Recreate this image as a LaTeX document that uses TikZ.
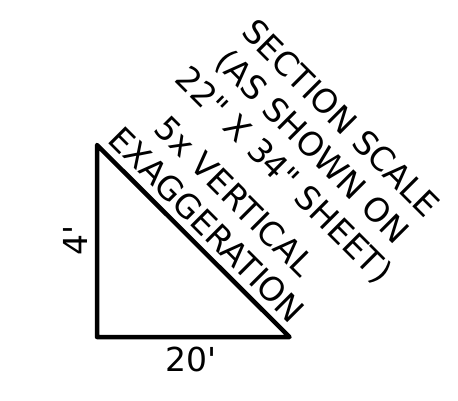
\documentclass[tikz,border=0pt]{standalone}
\usepackage{fontspec}
\setmainfont{DejaVu Sans}[Ligatures=TeXOff]
\usepackage{tikz}
\usetikzlibrary{positioning}

\begin{document}
\begin{tikzpicture}[x=1pt,y=-1pt]
  \tikzset{
    leg/.style={black, line width=4.5pt, line join=round},
    dim/.style={font=\fontsize{33}{40}\selectfont, inner sep=0pt},
    note/.style={font=\fontsize{33}{40}\selectfont, inner sep=0pt, align=center, rotate=-45}
  }
  \useasboundingbox (0,0) rectangle (458,401);

  % Triangle corners
  \def\xL{97}
  \def\xR{289.5}
  \def\yT{145}
  \def\yB{337}
  \coordinate (apex) at (\xL,\yT);
  \coordinate (corner) at (\xL,\yB);
  \coordinate (toe) at (\xR,\yB);

  \draw[leg] (apex) -- (corner) -- (toe) -- cycle;

  % Dimensions
  \node[dim, rotate=90] (rise) at (75.5,240) {4'};
  \node[dim] (run) at (191.5,359.6) {20'};

  % Scale notes
  \node[note] (scale) at (311.4,147.6) {SECTION SCALE\\(AS SHOWN ON\\22" X 34" SHEET)};
  \node[note] (exag) at (220.7,210.3) {5x VERTICAL\\EXAGGERATION};

\end{tikzpicture}
\end{document}
